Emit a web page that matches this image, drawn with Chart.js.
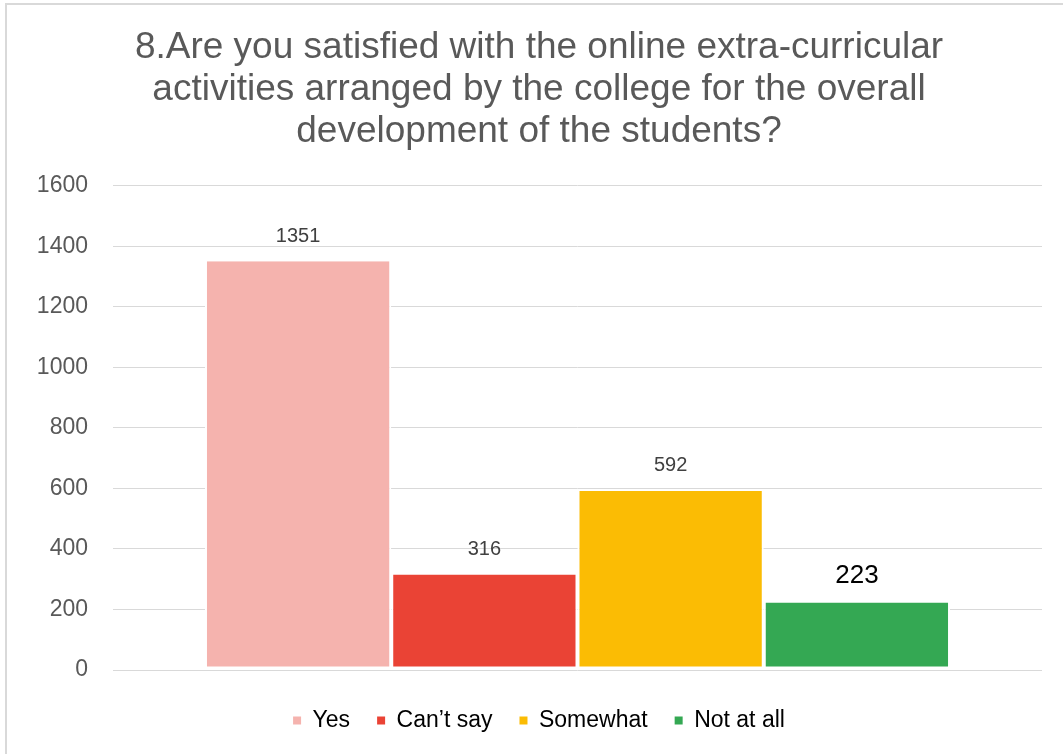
<!DOCTYPE html>
<html lang="en">
<head>
    <meta charset="UTF-8">
    <title>Satisfaction chart</title>
    <script src="https://cdn.jsdelivr.net/npm/chart.js"></script>
    <style>
        html, body { margin: 0; padding: 0; background: #fff; }
        .wrap { position: relative; width: 1063px; height: 754px; }
        .frame {
            position: absolute; left: 5px; top: 3px; right: -10px; bottom: -10px;
            border-left: 2px solid #d9d9d9; border-top: 2px solid #d9d9d9;
            pointer-events: none;
        }
    </style>
</head>
<body>
<div class="wrap">
    <canvas id="chart" width="1063" height="754"></canvas>
    <div class="frame"></div>
</div>
<script>
    // data
    const categories = [''];
    const seriesNames = ['Yes', 'Can\u2019t say', 'Somewhat', 'Not at all'];
    const seriesValues = [1351, 316, 592, 223];
    const seriesColors = ['#f5b3ae', '#ea4335', '#fbbc04', '#34a853'];
    const titleLines = [
        '8.Are you satisfied with the online extra-curricular',
        'activities arranged by the college for the overall',
        'development of the students?'
    ];

    const FONT = '"Liberation Sans", Arial, sans-serif';

    // value labels above each bar (last one is bigger and black in the original)
    const valueLabels = {
        id: 'valueLabels',
        afterDatasetsDraw(chart) {
            const ctx = chart.ctx;
            ctx.save();
            ctx.textAlign = 'center';
            ctx.textBaseline = 'middle';
            chart.data.datasets.forEach((ds, i) => {
                const bar = chart.getDatasetMeta(i).data[0];
                const big = i === chart.data.datasets.length - 1;
                ctx.font = (big ? '26px ' : '20px ') + FONT;
                ctx.fillStyle = big ? '#000000' : '#404040';
                ctx.fillText(String(ds.data[0]), bar.x, bar.y - (big ? 27 : 25));
            });
            ctx.restore();
        }
    };

    const chart = new Chart(document.getElementById('chart'), {
        type: 'bar',
        data: {
            labels: categories,
            datasets: seriesNames.map((name, i) => ({
                label: name,
                data: [seriesValues[i]],
                backgroundColor: seriesColors[i],
                borderColor: '#ffffff',
                borderWidth: { top: 0, left: 2, right: 2, bottom: 3 },
                borderSkipped: false,
                barPercentage: 1.0,
                categoryPercentage: 0.802
            }))
        },
        options: {
            responsive: false,
            animation: false,
            // left padding keeps the title centred where the original has it
            layout: { padding: { left: 36, right: 21, top: 0, bottom: 12 } },
            plugins: {
                title: {
                    display: true,
                    text: titleLines,
                    color: '#595959',
                    font: { family: FONT, size: 37, weight: 'normal', lineHeight: 1.135 },
                    padding: { top: 27, bottom: 33 }
                },
                legend: {
                    position: 'bottom',
                    labels: {
                        color: '#595959',
                        font: { family: FONT, size: 23 },
                        boxWidth: 8,
                        boxHeight: 8,
                        padding: 27,
                        generateLabels(chart) {
                            return chart.data.datasets.map((ds, i) => ({
                                text: ds.label,
                                fillStyle: ds.backgroundColor,
                                strokeStyle: ds.backgroundColor,
                                lineWidth: 0,
                                datasetIndex: i,
                                hidden: false
                            }));
                        }
                    }
                },
                tooltip: { enabled: false }
            },
            scales: {
                x: {
                    grid: { display: false },
                    border: { display: false },
                    ticks: { display: false },
                    afterFit(scale) { scale.height = scale.height + 4; }
                },
                y: {
                    min: 0,
                    max: 1600,
                    ticks: {
                        stepSize: 200,
                        color: '#595959',
                        font: { family: FONT, size: 23 },
                        padding: 25,
                        callback: (v) => String(v)
                    },
                    grid: { color: '#d9d9d9', lineWidth: 1, drawTicks: false },
                    border: { display: false },
                    afterFit(scale) { scale.width = 77; }
                }
            }
        },
        plugins: [valueLabels]
    });
</script>
</body>
</html>
